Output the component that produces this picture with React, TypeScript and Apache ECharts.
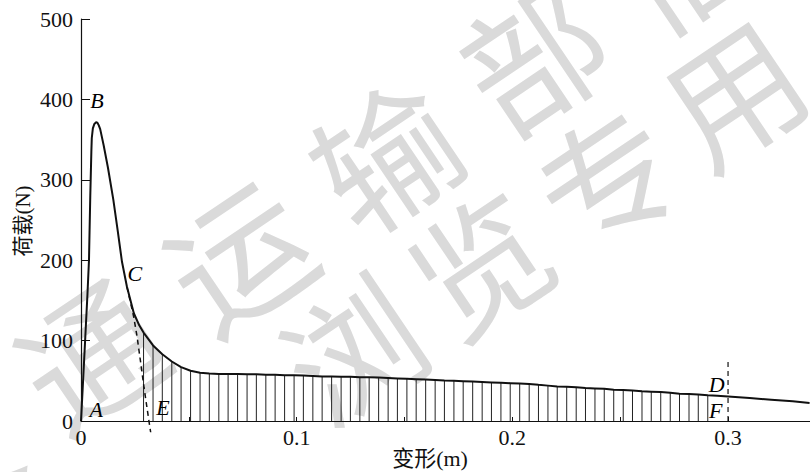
import React, { useEffect, useRef } from "react";
import * as echarts from "echarts";

// ---- data ----
// load–deformation curve (m, N)
const curveX = [
  0, 0.001, 0.002, 0.003, 0.0037, 0.0043, 0.0048, 0.005, 0.0055, 0.0062, 0.007, 0.0076, 0.0082, 0.0089,
  0.0105, 0.0125, 0.015, 0.017, 0.019, 0.0213, 0.0245, 0.027,
  0.029, 0.0334, 0.0377, 0.0421, 0.0464, 0.0508, 0.0552, 0.0595, 0.0639, 0.0682,
  0.0726, 0.077, 0.0813, 0.0857, 0.09, 0.0944, 0.0988, 0.1031, 0.1075, 0.1118,
  0.1162, 0.1206, 0.1249, 0.1293, 0.1336, 0.138, 0.1424, 0.1467, 0.1511, 0.1554,
  0.1598, 0.1642, 0.1685, 0.1729, 0.1772, 0.1816, 0.186, 0.1903, 0.1947, 0.199,
  0.2034, 0.2078, 0.2121, 0.2165, 0.2208, 0.2252, 0.2296, 0.2339, 0.2383, 0.2426,
  0.247, 0.2514, 0.2557, 0.2601, 0.2644, 0.2688, 0.2732, 0.2775, 0.2819, 0.2862,
  0.2906,
  0.295, 0.3, 0.31, 0.32, 0.33, 0.3378,
];
const curveLoad = [
  0, 52, 105, 158, 200, 280, 335, 352, 364, 369.5, 371.5, 371, 368, 363,
  343, 315, 275, 237, 198, 167, 134, 119,
  110, 94, 83, 74, 67, 62.5, 60, 59, 58.5, 58.5,
  58.5, 58, 58, 57.5, 57.5, 57, 57, 56.5, 56, 55.5,
  55.5, 55, 55, 54.5, 54.5, 54, 53.5, 53, 52.5, 52,
  51.5, 51, 50.5, 50, 49.5, 49, 48.5, 48, 47.5, 47,
  46.5, 46, 45, 44, 43, 42.5, 42, 41, 40.5, 40,
  39, 38.5, 38, 37, 36.5, 36, 35, 34, 33.5, 33,
  32,
  31.5, 30.5, 28.5, 26.5, 24.5, 22.5,
];
// hatched area E–F
const hatchStart = 0.029;
const hatchEnd = 0.2906;

// dashed unloading line C–E
const dashCEX = [0.0213, 0.0244, 0.026, 0.0277, 0.0292, 0.0315, 0.0323];
const dashCELoad = [167, 130, 105, 72, 42, 0, -14];
// dashed vertical at D–F
const dashDX = [0.3, 0.3];
const dashDLoad = [0, 78];

// point letters
const pointNames = ["A", "B", "C", "D", "E", "F"];
const pointX = [0.007, 0.0074, 0.025, 0.2947, 0.038, 0.2943];
const pointLoad = [14, 399, 183, 46, 17, 13];

// axes
const xMax = 0.338;
const xTickStep = 0.05;
const yMax = 500;
const yTickStep = 100;
const xName = "变形(m)";
const yName = "荷载(N)";

// watermark text
const watermarkRow1 = "交通运输部信";
const watermarkRow2 = "浏览专用";

const SERIF = "'Liberation Serif', 'Times New Roman', 'Noto Sans CJK SC', serif";

export default function App() {
  const ref = useRef<HTMLDivElement>(null);

  useEffect(() => {
    if (!ref.current) return;
    const chart = echarts.init(ref.current, null, { renderer: "svg" });

    const curve = curveX.map((x, i) => [x, curveLoad[i]]);
    const hatch = curve.filter((p) => p[0] >= hatchStart - 1e-9 && p[0] <= hatchEnd + 1e-9);

    const wmChars: any[] = [];
    const ang = (34 * Math.PI) / 180;
    const addRow = (text: string, x0: number, y0: number, step: number, size: number) => {
      for (let i = 0; i < text.length; i++) {
        wmChars.push({
          type: "text",
          x: x0 + i * step * Math.cos(ang),
          y: y0 - i * step * Math.sin(ang),
          rotation: ang,
          z: -10,
          silent: true,
          style: {
            text: text[i],
            fill: "#dadada",
            font: `${size}px 'Noto Sans CJK SC', sans-serif`,
            align: "center",
            verticalAlign: "middle",
          },
        });
      }
    };
    addRow(watermarkRow1, -60, 450, 178, 140);
    addRow(watermarkRow2, 350, 345, 153, 135);

    chart.setOption({
      animation: false,
      backgroundColor: "#ffffff",
      grid: { left: 81, right: 0, top: 19, bottom: 51, outerBoundsMode: "none" },
      xAxis: {
        type: "value",
        min: 0,
        max: xMax,
        interval: xTickStep,
        axisLine: { show: true, onZero: false, lineStyle: { color: "#111", width: 1.2 } },
        axisTick: { show: true, inside: true, length: 4, lineStyle: { color: "#111" } },
        splitLine: { show: false },
        axisLabel: {
          color: "#111",
          fontFamily: SERIF,
          fontSize: 22,
          margin: 5,
          showMaxLabel: false,
          formatter: (v: number) => {
            const t = v * 10;
            if (Math.abs(t - Math.round(t)) > 1e-6) return "";
            return v === 0 ? "0" : v.toFixed(1);
          },
        },
      },
      yAxis: {
        type: "value",
        min: 0,
        max: yMax,
        interval: yTickStep,
        axisLine: { show: true, lineStyle: { color: "#111", width: 1.2 } },
        axisTick: { show: true, inside: true, length: 9, lineStyle: { color: "#111" } },
        splitLine: { show: false },
        axisLabel: { color: "#111", fontFamily: SERIF, fontSize: 22, margin: 8 },
      },
      graphic: [
        ...wmChars,
        {
          type: "text",
          x: 430,
          y: 458,
          z: 10,
          style: {
            text: xName,
            fill: "#111",
            font: `22px ${SERIF}`,
            align: "center",
            verticalAlign: "middle",
          },
        },
        {
          type: "text",
          x: 23,
          y: 221,
          rotation: Math.PI / 2,
          z: 10,
          style: {
            text: yName,
            fill: "#111",
            font: `21px ${SERIF}`,
            align: "center",
            verticalAlign: "middle",
          },
        },
      ],
      series: [
        {
          type: "custom",
          name: "hatch",
          data: hatch,
          clip: false,
          z: 3,
          renderItem: (params: any, api: any) => {
            const x = api.value(0);
            const y = api.value(1);
            const p0 = api.coord([x, 0]);
            const p1 = api.coord([x, y]);
            return {
              type: "line",
              shape: { x1: p0[0], y1: p0[1], x2: p1[0], y2: p1[1] },
              style: { stroke: "#222", lineWidth: 1 },
            };
          },
        },
        {
          type: "line",
          name: "curve",
          data: curve,
          showSymbol: false,
          symbol: "none",
          z: 4,
          lineStyle: { color: "#111", width: 2 },
        },
        {
          type: "line",
          name: "CE",
          data: dashCEX.map((x, i) => [x, dashCELoad[i]]),
          symbol: "none",
          clip: false,
          z: 4,
          lineStyle: { color: "#111", width: 1.5, type: [5, 4] },
        },
        {
          type: "line",
          name: "DF",
          data: dashDX.map((x, i) => [x, dashDLoad[i]]),
          symbol: "none",
          z: 4,
          lineStyle: { color: "#111", width: 1.2, type: [5, 4] },
        },
        {
          type: "scatter",
          name: "points",
          data: pointNames.map((n, i) => ({ name: n, value: [pointX[i], pointLoad[i]] })),
          symbolSize: 1,
          itemStyle: { color: "rgba(0,0,0,0)", opacity: 1 },
          z: 5,
          label: {
            show: true,
            position: "inside",
            formatter: "{b}",
            fontFamily: SERIF,
            fontStyle: "italic",
            fontSize: 22,
            color: "#000",
            opacity: 1,
          },
        },
      ],
    });

    return () => chart.dispose();
  }, []);

  return (
    <div
      ref={ref}
      style={{ position: "fixed", left: 0, top: 0, width: 810, height: 472, background: "#fff" }}
    />
  );
}
